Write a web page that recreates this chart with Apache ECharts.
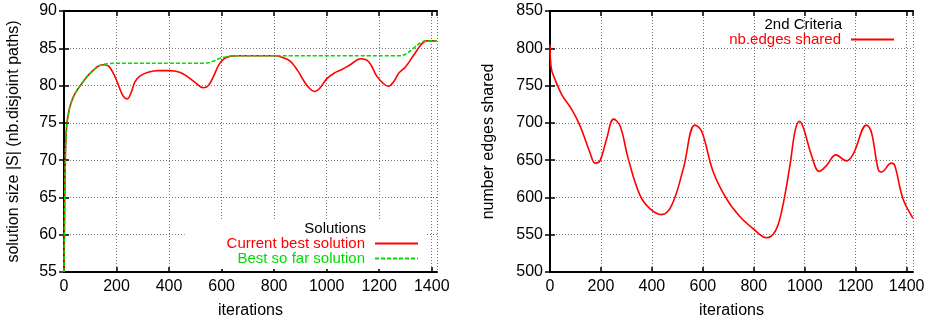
<!DOCTYPE html>
<html lang="en">
<head>
    <meta charset="UTF-8">
    <title>Solutions / 2nd Criteria</title>
    <script src="https://cdn.jsdelivr.net/npm/echarts@6.0.0/dist/echarts.min.js"></script>
</head>
<body>
<div id="chart" style="width: 931px;height: 324px"></div>
<script>
// left panel: solution size vs iterations
const itersA = [0, 5, 10, 20, 30, 40, 50, 60, 75, 90, 110, 130, 150, 170, 190, 210, 225, 240, 255, 270, 290, 320, 360, 400, 440, 470, 500, 530, 550, 570, 590, 610, 630, 660, 700, 750, 800, 830, 860, 890, 910, 930, 955, 975, 1000, 1030, 1060, 1090, 1130, 1160, 1190, 1215, 1235, 1255, 1275, 1300, 1330, 1360, 1380, 1400, 1420]
const currentBest = [55, 70, 74.5, 76.8, 78, 78.8, 79.4, 79.9, 80.6, 81.3, 82, 82.6, 82.8, 82.6, 81.5, 79.8, 78.6, 78.2, 79, 80.5, 81.3, 81.8, 82, 82, 81.8, 81.2, 80.4, 79.7, 80, 81.3, 82.8, 83.6, 83.9, 84, 84, 84, 84, 83.8, 83.3, 82, 80.8, 79.8, 79.2, 79.7, 80.9, 81.7, 82.2, 82.8, 83.6, 83.2, 81.3, 80.3, 79.9, 80.5, 81.7, 82.5, 84, 85.5, 86, 86, 86]
const bestSoFar = [55, 70, 74.5, 76.8, 78, 78.8, 79.4, 79.9, 80.6, 81.3, 82, 82.6, 82.85, 82.95, 83, 83, 83, 83, 83, 83, 83, 83, 83, 83, 83, 83, 83, 83, 83.05, 83.3, 83.6, 83.8, 83.95, 84, 84, 84, 84, 84, 84, 84, 84, 84, 84, 84, 84, 84, 84, 84, 84, 84, 84, 84, 84, 84, 84, 84.2, 85, 85.8, 86, 86, 86]

// right panel: number of edges shared
const itersB = [0, 5, 20, 46, 85, 118, 157, 177, 196, 222, 250, 275, 307, 353, 392, 438, 477, 523, 569, 595, 641, 693, 746, 798, 850, 883, 909, 942, 962, 979, 994, 1027, 1057, 1086, 1122, 1164, 1190, 1243, 1262, 1288, 1301, 1340, 1353, 1386, 1425]
const edgesShared = [805, 773, 758, 738, 718, 696, 660, 646, 649, 678, 705, 696, 652, 603, 585, 577, 589, 638, 697, 689, 634, 598, 574, 558, 546, 554, 581, 643, 689, 702, 694, 656, 635, 643, 657, 649, 658, 697, 687, 638, 634, 646, 643, 598, 572]

const font = "'Liberation Sans', Arial, sans-serif"
const red = '#ff0000'
const green = '#00dd00'

const pairs = (xs, ys) => xs.map((x, i) => [x, ys[i]])

function xAxisPair(gridIndex, max) {
    const base = {
        gridIndex: gridIndex, type: 'value', min: 0, max: max, interval: 200,
        axisLine: {lineStyle: {color: '#000', width: 2}},
        axisTick: {inside: true, length: 5, lineStyle: {color: '#000', width: 1.5}}
    }
    return [
        Object.assign({}, base, {
            position: 'bottom',
            name: 'iterations', nameLocation: 'middle', nameGap: 31,
            nameTextStyle: {fontFamily: font, fontSize: 16, color: '#000'},
            axisLabel: {fontFamily: font, fontSize: 16, color: '#000', margin: 7, showMaxLabel: false,
                formatter: v => String(v)},
            splitLine: {show: true, lineStyle: {color: '#777', type: [1, 2], width: 1}}
        }),
        Object.assign({}, base, {position: 'top', axisLabel: {show: false}, splitLine: {show: false}})
    ]
}

function yAxisPair(gridIndex, min, max, interval, name, nameGap) {
    const base = {
        gridIndex: gridIndex, type: 'value', min: min, max: max, interval: interval,
        axisLine: {lineStyle: {color: '#000', width: 2}},
        axisTick: {inside: true, length: 5, lineStyle: {color: '#000', width: 1.5}}
    }
    return [
        Object.assign({}, base, {
            position: 'left',
            name: name, nameLocation: 'middle', nameGap: nameGap,
            nameTextStyle: {fontFamily: font, fontSize: 16, color: '#000'},
            axisLabel: {fontFamily: font, fontSize: 16, color: '#000', margin: 7},
            splitLine: {show: true, lineStyle: {color: '#777', type: [1, 2], width: 1}}
        }),
        Object.assign({}, base, {position: 'right', axisLabel: {show: false}, splitLine: {show: false}})
    ]
}

const myChart = echarts.init(document.getElementById('chart'))
const option = {
    animation: false,
    title: [
        {
            text: 'Solutions', right: 565, top: 221, padding: 0,
            textStyle: {fontFamily: font, fontSize: 15, fontWeight: 'normal', color: '#000', lineHeight: 15}
        },
        {
            text: '2nd Criteria', right: 89, top: 17, padding: 0,
            textStyle: {fontFamily: font, fontSize: 15, fontWeight: 'normal', color: '#000', lineHeight: 15}
        }
    ],
    grid: [
        {left: 64, right: 494, top: 11, bottom: 50},
        {left: 550, right: 18, top: 11, bottom: 50}
    ],
    xAxis: xAxisPair(0, 1420).concat(xAxisPair(1, 1425)),
    yAxis: yAxisPair(0, 55, 90, 5, 'solution size |S| (nb.disjoint paths)', 42)
        .concat(yAxisPair(1, 500, 850, 50, 'number edges shared', 53)),
    legend: [
        {
            orient: 'vertical', align: 'right', right: 504, top: 220,
            padding: [16, 8, 3, 42], backgroundColor: '#fff',
            itemWidth: 43, itemHeight: 10, itemGap: 0,
            itemStyle: {opacity: 0},
            data: [
                {name: 'Current best solution', textStyle: {color: red}},
                {name: 'Best so far solution', textStyle: {color: green}}
            ],
            textStyle: {fontFamily: font, fontSize: 15, lineHeight: 15, padding: [0, 5, 0, 0]}
        },
        {
            orient: 'vertical', align: 'right', right: 36, top: 32, padding: 0,
            itemWidth: 43, itemHeight: 10, itemGap: 0,
            itemStyle: {opacity: 0},
            data: [{name: 'nb.edges shared', textStyle: {color: red}}],
            textStyle: {fontFamily: font, fontSize: 15, lineHeight: 15, padding: [0, 5, 0, 0]}
        }
    ],
    series: [
        {
            name: 'Current best solution', type: 'line', xAxisIndex: 0, yAxisIndex: 0,
            data: pairs(itersA, currentBest), smooth: 0.4, symbol: 'none',
            lineStyle: {color: red, width: 1.6}, itemStyle: {color: red}
        },
        {
            name: 'Best so far solution', type: 'line', xAxisIndex: 0, yAxisIndex: 0,
            data: pairs(itersA, bestSoFar), smooth: 0.4, symbol: 'none',
            lineStyle: {color: green, width: 1.6, type: [4, 2]}, itemStyle: {color: green}
        },
        {
            name: 'nb.edges shared', type: 'line', xAxisIndex: 2, yAxisIndex: 2,
            data: pairs(itersB, edgesShared), smooth: 0.4, symbol: 'none',
            lineStyle: {color: red, width: 1.6}, itemStyle: {color: red}
        }
    ]
}
myChart.setOption(option)
</script>
<style>
    html, body {
        margin: 0;
        padding: 0;
        background: #fff;
    }
</style>
</body>
</html>
